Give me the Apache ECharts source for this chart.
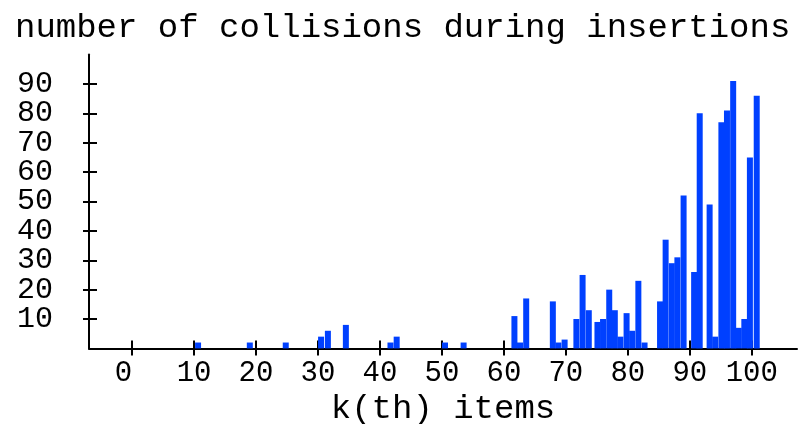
<!DOCTYPE html>
<html>
<head>
<meta charset="utf-8">
<script src="https://cdn.jsdelivr.net/npm/echarts@6/dist/echarts.min.js"></script>
<style>
  html, body { margin: 0; padding: 0; background: #fff; }
  #chart { width: 798px; height: 424px; }
</style>
</head>
<body>
<div id="chart"></div>
<script>
// k(th) item position of each bar (bar centre) and collisions counted there
var itemPos = [10.65, 19.0, 24.8, 30.5, 31.6, 34.5, 41.7, 42.7, 50.5, 53.5,
               61.7, 62.6, 63.6, 67.9, 68.8, 69.8, 71.7, 72.7, 73.7, 75.1,
               76.0, 77.0, 77.9, 78.8, 79.8, 80.7, 81.7, 82.7, 85.2, 86.1,
               87.1, 88.0, 89.0, 90.7, 91.6, 93.2, 94.1, 95.1, 96.0, 97.0,
               97.9, 98.8, 99.7, 100.8];
var collisions = [2, 2, 2, 4, 6, 8, 2, 4, 2, 2,
                  11, 2, 17, 16, 2, 3, 10, 25, 13, 9,
                  10, 20, 13, 4, 12, 6, 23, 2, 16, 37,
                  29, 31, 52, 26, 80, 49, 4, 77, 81, 91,
                  7, 10, 65, 86];
var xTicks = [0, 10, 20, 30, 40, 50, 60, 70, 80, 90, 100];
var yTicks = [10, 20, 30, 40, 50, 60, 70, 80, 90];

var monoFont = '"Liberation Mono", "DejaVu Sans Mono", monospace';

var chart = echarts.init(document.getElementById('chart'), null, {renderer: 'canvas'});

var barData = [];
for (var i = 0; i < itemPos.length; i++) {
    barData.push([itemPos[i], collisions[i]]);
}

var xBase = {
    type: 'value',
    min: -6.95,
    max: 107.3,
    splitLine: {show: false}
};
var yBase = {
    type: 'value',
    min: 0,
    max: 100,
    splitLine: {show: false}
};
// tick-only axes (ticks cross the axis lines on both sides)
var tickOnly = function (base, pos, ticks, inside, len) {
    return Object.assign({}, base, {
        position: pos,
        axisLine: {show: false, onZero: false},
        axisTick: {show: true, inside: inside, length: len, customValues: ticks, lineStyle: {color: '#000', width: 2}},
        axisLabel: {show: false}
    });
};

var option = {
    backgroundColor: '#ffffff',
    animation: false,
    title: {
        text: 'number of collisions during insertions',
        left: 10,
        top: 6,
        textStyle: {fontFamily: monoFont, fontSize: 34, fontWeight: 'normal', color: '#000'}
    },
    grid: {left: 89, right: 1, top: 54.6, bottom: 75.6, containLabel: false, outerBoundsMode: 'none'},
    xAxis: [
        Object.assign({}, xBase, {
            position: 'bottom',
            name: 'k(th) items',
            nameLocation: 'middle',
            nameGap: 35,
            nameTextStyle: {fontFamily: monoFont, fontSize: 34, color: '#000'},
            axisLine: {show: true, onZero: false, lineStyle: {color: '#000', width: 2}},
            axisTick: {show: false},
            axisLabel: {
                show: true, margin: 10, customValues: xTicks, interval: 0,
                showMinLabel: true, showMaxLabel: true, hideOverlap: false,
                fontFamily: monoFont, fontSize: 29, color: '#000',
                formatter: function (v) { return v === 0 ? '0 ' : String(v); }
            }
        }),
        tickOnly(xBase, 'bottom', xTicks, true, 8),
        tickOnly(xBase, 'bottom', xTicks, false, 7)
    ],
    yAxis: [
        Object.assign({}, yBase, {
            position: 'left',
            interval: 10,
            axisLine: {show: true, onZero: false, lineStyle: {color: '#000', width: 2}},
            axisTick: {show: false},
            axisLabel: {
                show: true, margin: 36, align: 'right', interval: 0,
                showMinLabel: true, showMaxLabel: true, hideOverlap: false,
                fontFamily: monoFont, fontSize: 30, lineHeight: 20, color: '#000',
                formatter: function (v) { return yTicks.indexOf(v) >= 0 ? String(v) : ''; }
            }
        }),
        tickOnly(yBase, 'left', yTicks, true, 8),
        tickOnly(yBase, 'left', yTicks, false, 6)
    ],
    series: [{
        name: 'collisions',
        type: 'bar',
        xAxisIndex: 0,
        yAxisIndex: 0,
        barWidth: 6,
        itemStyle: {color: '#0040ff'},
        data: barData
    }]
};

chart.setOption(option);
</script>
</body>
</html>
